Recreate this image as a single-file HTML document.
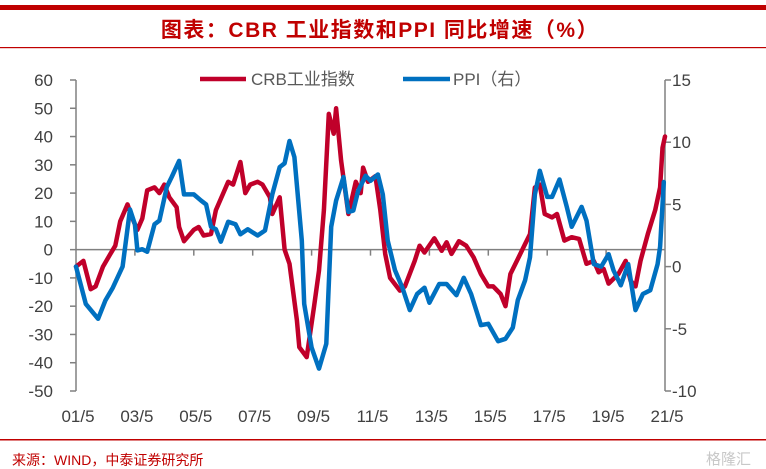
<!DOCTYPE html>
<html><head><meta charset="utf-8"><style>
body{margin:0;background:#fff;}
svg{display:block;font-family:"Liberation Sans","Noto Sans CJK SC",sans-serif;}
</style></head><body>
<svg id="chart" width="766" height="469" viewBox="0 0 766 469" xmlns="http://www.w3.org/2000/svg">
<rect x="0" y="5" width="766" height="5" fill="#c00000"/>
<text x="380" y="37" text-anchor="middle" font-size="21" font-weight="bold" letter-spacing="1.5" fill="#c00000">图表：CBR 工业指数和PPI 同比增速（%）</text>
<rect x="0" y="47" width="766" height="1.2" fill="#c00000"/>
<g id="axes"></g>
<g id="series"></g>
<g>
<line x1="200" y1="79" x2="246" y2="79" stroke="#c0002a" stroke-width="4.5"/>
<text x="251" y="85" font-size="17" fill="#595959">CRB工业指数</text>
<line x1="403" y1="79" x2="450" y2="79" stroke="#0070c0" stroke-width="4.5"/>
<text x="453" y="85" font-size="17" fill="#595959">PPI（右）</text>
</g>
<rect x="0" y="439" width="766" height="1.5" fill="#c00000"/>
<text x="12" y="465" font-size="14" fill="#c00000">来源：WIND，中泰证券研究所</text>
<text x="706" y="464" font-size="15" fill="#c8c8c8">格隆汇</text>
</svg>
<script>
const xLabels=["01/5","03/5","05/5","07/5","09/5","11/5","13/5","15/5","17/5","19/5","21/5"];
const leftTicks=[60,50,40,30,20,10,0,-10,-20,-30,-40,-50];
const rightTicks=[15,10,5,0,-5,-10];
const crbMonths=[0,3,6,8,11,14,16,18,21,23,25,27,29,32,34,36,38,41,42,44,48,50,52,55,57,60,62,64,67,69,71,74,76,79,80,83,85,87,90,91,94,97,99,101,103,105,106,108,111,114,116,117,119,122,124,126,128,132,134,138,140,142,146,149,151,153,156,159,162,165,168,170,173,175,177,180,183,185,187,189,191,194,196,199,202,205,208,211,213,215,217,221,224,226,228,230,233,236,238,239,240];
const crbValues=[-6,-4,-14,-13,-6,-1.5,1.4,10,16,11,7,11,21,22,20,23,18.5,15,8,3,7,8,5,5.5,14,20,24,23,31,20,23,24,23,18.5,12.6,18.5,0,-5,-25,-34.5,-38,-20,-7.4,14,48,41,50,31.5,12.6,24,20,29,24,26,14,-1.5,-10,-14.5,-13,-4,1.4,-1,4,-0.4,2.6,-1.5,3,1.4,-2.7,-8.6,-13,-13,-15.7,-20,-8.6,-3.3,2,5.5,22,23,12.6,11.4,12.6,3.2,4.4,3.8,-5,-4,-8,-6.8,-12,-8.6,-4,-11,-13,-4,5.5,14,22,36,40];
const ppiMonths=[0,4,9,12,15,19,22,24,25,27,29,32,34,37,39,42,44,48,51,53,55,57,59,62,65,67,70,74,77,80,83,85,87,89,92,93,96,99,102,104,106,109,111,113,115,118,120,123,125,127,130,133,136,139,142,144,148,151,155,158,161,165,168,172,175,178,180,183,185,187,189,192,194,197,200,202,206,208,211,214,217,219,222,225,228,231,234,237,238,239.5];
const ppiValues=[0,-3,-4.2,-2.7,-1.7,0,4.6,3.4,1.3,1.4,1.2,3.4,3.7,6.4,7.2,8.5,5.8,5.8,5.3,5,3.2,3,2,3.6,3.4,2.6,3,2.5,2.9,5.8,8,8.3,10.1,8.8,2.1,-3,-6.5,-8.2,-6.2,3.2,5.3,7.2,4.4,4.5,6.1,7.3,6.9,7.4,5.8,2.1,-0.3,-1.7,-3.5,-2.2,-1.7,-2.9,-1.4,-1.4,-2.3,-0.9,-2.2,-4.7,-4.6,-6,-5.8,-4.9,-2.7,-1.1,0.75,5.8,7.7,5.6,5.6,7,4.8,3.2,4.8,3.7,0.2,0,1,-0.3,-1.5,0.2,-3.5,-2.2,-1.9,0.2,1.6,6.8];
const X0=76,X1=665,Y0=80,Y1=391,NM=240;
const xs=m=>X0+(X1-X0)*m/NM;
const yL=v=>Y0+(60-v)*(Y1-Y0)/110;
const yR=v=>Y0+(15-v)*(Y1-Y0)/25;
const NS='http://www.w3.org/2000/svg';
function mk(tag,attrs,parent){const e=document.createElementNS(NS,tag);for(const k in attrs)e.setAttribute(k,attrs[k]);parent.appendChild(e);return e;}
const ax=document.getElementById('axes');
const ac='#808080';
let e=mk('line',{x1:X0,y1:Y0,x2:X0,y2:Y1,stroke:ac,'stroke-width':1.5},ax);


e=mk('line',{x1:X1,y1:Y0,x2:X1,y2:Y1,stroke:ac,'stroke-width':1.5},ax);


e=mk('line',{x1:X0,y1:yL(0),x2:X1,y2:yL(0),stroke:ac,'stroke-width':1.5},ax);


leftTicks.forEach(v=>{
  const t=mk('line',{x1:X0-6,y1:yL(v),x2:X0,y2:yL(v),stroke:ac,'stroke-width':1.5},ax);
  
  
  const l=mk('text',{x:53,y:yL(v)+6,'text-anchor':'end','font-size':17,fill:'#404040'},ax);
  l.textContent=v;
  
  
});
rightTicks.forEach(v=>{
  const t=mk('line',{x1:X1,y1:yR(v),x2:X1+6,y2:yR(v),stroke:ac,'stroke-width':1.5},ax);
  
  
  const l=mk('text',{x:672,y:yR(v)+6,'font-size':17,fill:'#404040'},ax);
  l.textContent=v;
  
  
});
xLabels.forEach((s,i)=>{
  const x=xs(i*24);
  if(i>0&&i<xLabels.length-1){
    const t=mk('line',{x1:x,y1:yL(0),x2:x,y2:yL(0)+6,stroke:ac,'stroke-width':1.5},ax);
    
    
  }
  const l=mk('text',{x:x+2,y:422,'text-anchor':'middle','font-size':17,fill:'#404040'},ax);
  l.textContent=s;
  
  
});
const sg=document.getElementById('series');
const crbD=crbMonths.map((m,i)=>(i?'L':'M')+xs(m).toFixed(1)+','+yL(crbValues[i]).toFixed(1)).join('');
const ppiD=ppiMonths.map((m,i)=>(i?'L':'M')+xs(m).toFixed(1)+','+yR(ppiValues[i]).toFixed(1)).join('');
const p1=mk('path',{d:crbD,fill:'none',stroke:'#c0002a','stroke-width':4.5,'stroke-linejoin':'round','stroke-linecap':'round'},sg);


const p2=mk('path',{d:ppiD,fill:'none',stroke:'#0070c0','stroke-width':4.5,'stroke-linejoin':'round','stroke-linecap':'round'},sg);


</script>
</body></html>
